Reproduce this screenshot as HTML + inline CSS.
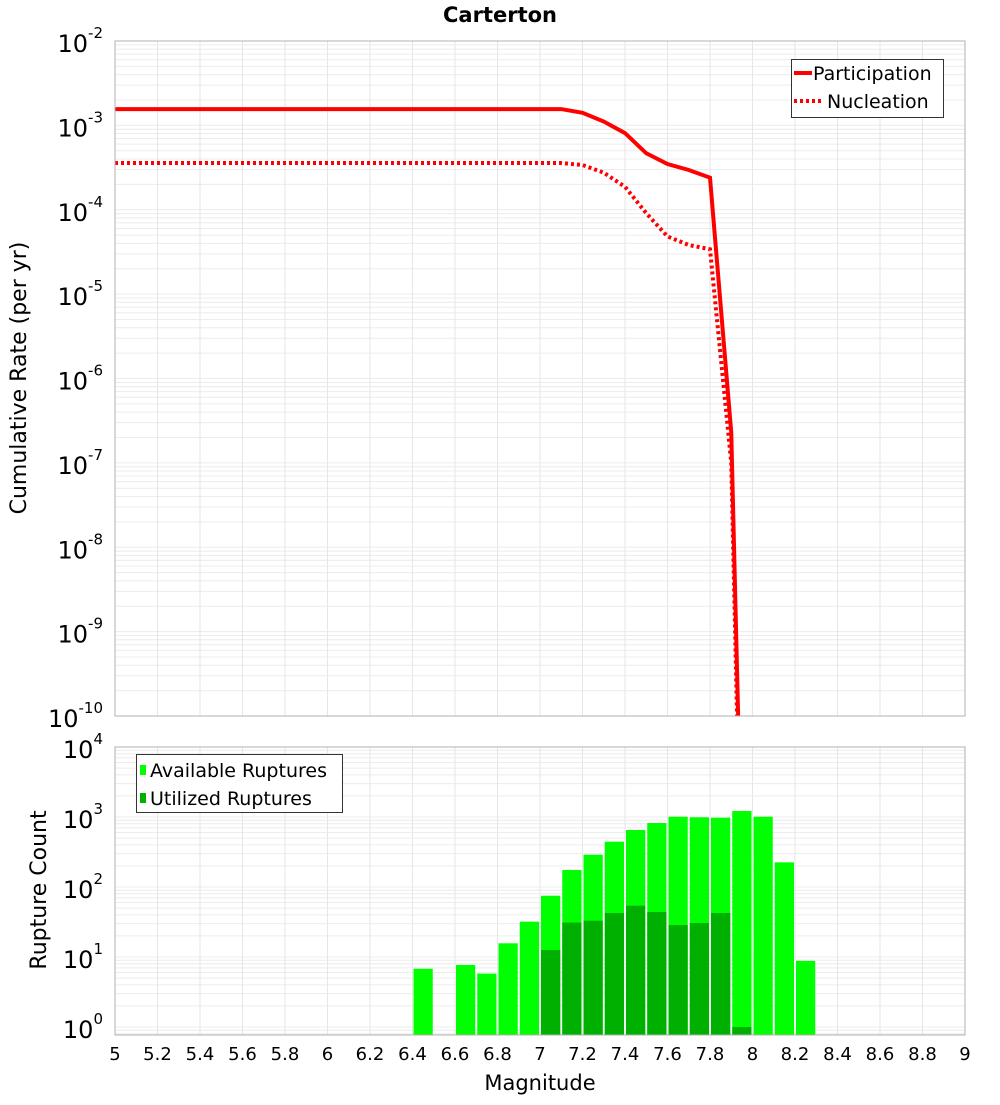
<!DOCTYPE html>
<html><head><meta charset="utf-8">
<style>
body{margin:0;background:#fff;}
svg text{font-family:"DejaVu Sans","Liberation Sans",sans-serif;}
</style></head>
<body>
<svg id="chart" width="1000" height="1100" xmlns="http://www.w3.org/2000/svg">
<text x="500" y="22" text-anchor="middle" font-size="21" font-weight="bold">Carterton</text>
<g id="topPlot"></g>
<g id="botPlot"></g>
<text transform="translate(26,378) rotate(-90)" text-anchor="middle" font-size="22">Cumulative Rate (per yr)</text>
<text transform="translate(46,890) rotate(-90)" text-anchor="middle" font-size="22">Rupture Count</text>
<text x="540" y="1090" text-anchor="middle" font-size="21">Magnitude</text>
</svg>
<script>
const partMags = [5.0, 7.1, 7.2, 7.3, 7.4, 7.5, 7.6, 7.7, 7.8, 7.9, 8.0];
const partRates = [1.56e-3, 1.56e-3, 1.41e-3, 1.11e-3, 8.1e-4, 4.67e-4, 3.48e-4, 2.96e-4, 2.40e-4, 2.3e-7, 1e-17];
const nuclMags = [5.0, 7.1, 7.2, 7.3, 7.4, 7.5, 7.6, 7.7, 7.8, 7.9, 8.0];
const nuclRates = [3.58e-4, 3.58e-4, 3.39e-4, 2.75e-4, 1.87e-4, 9.1e-5, 4.82e-5, 3.82e-5, 3.4e-5, 1e-7, 1e-18];
const binMags = [6.45, 6.55, 6.65, 6.75, 6.85, 6.95, 7.05, 7.15, 7.25, 7.35, 7.45, 7.55, 7.65, 7.75, 7.85, 7.95, 8.05, 8.15, 8.25];
const availCounts = [6.8, 0, 7.7, 5.8, 15.7, 32, 75, 175, 289, 444, 652, 820, 1010, 990, 977, 1220, 1010, 225, 8.8];
const usedCounts = [0, 0, 0, 0, 0, 0, 12.6, 31, 33, 42.5, 54, 44, 28.6, 30.6, 42.5, 1, 0, 0, 0];
const xTicks = [5,5.2,5.4,5.6,5.8,6,6.2,6.4,6.6,6.8,7,7.2,7.4,7.6,7.8,8,8.2,8.4,8.6,8.8,9];

const NS="http://www.w3.org/2000/svg";
const X0=115,X1=965;
function xs(m){return X0+(m-5)/4*(X1-X0);}
const T0=41,T1=716;
function ysTop(v){return T0+(-2-Math.log10(v))*(T1-T0)/8;}
const B0=747,B1=1035,BD=70;
function ysBot(v){return B0+(4-Math.log10(v))*BD;}
function mk(tag,attrs,parent){const e=document.createElementNS(NS,tag);for(const k in attrs)e.setAttribute(k,attrs[k]);parent.appendChild(e);return e;}
const topG=document.getElementById('topPlot'),botG=document.getElementById('botPlot');

// top grid
const tg=mk('g',{},topG);


for(let d=-10;d<-2;d++){for(let k=1;k<10;k++){const y=ysTop(k*Math.pow(10,d));mk('line',{x1:X0,x2:X1,y1:y,y2:y,stroke:'#ececec','stroke-width':1},tg);}}
xTicks.forEach(m=>{mk('line',{x1:xs(m),x2:xs(m),y1:T0,y2:T1,stroke:'#e6e6e6','stroke-width':1},tg);});
for(let d=-10;d<=-2;d++){
 const tl=mk('text',{x:103,y:ysTop(Math.pow(10,d))+11,'text-anchor':'end','font-size':24},topG);
 
 
 tl.innerHTML='10<tspan font-size="15" dy="-14">'+d+'</tspan>';
}
const cp=mk('clipPath',{id:'cpTop'},topG);mk('rect',{x:X0,y:T0,width:X1-X0,height:T1-T0},cp);
function drawLine(mags,rates,dash,name){
 const p=mk('polyline',{points:mags.map((m,i)=>xs(m)+','+ysTop(rates[i])).join(' '),fill:'none',stroke:'#ff0000','stroke-width':4,'clip-path':'url(#cpTop)'},topG);
 if(dash)p.setAttribute('stroke-dasharray','3,3');
 
 
}
drawLine(partMags,partRates,false,'participation-line');
drawLine(nuclMags,nuclRates,true,'nucleation-line');
mk('rect',{x:X0,y:T0,width:X1-X0,height:T1-T0,fill:'none',stroke:'#b0b0b0'},topG);
const lg=mk('g',{},topG);


mk('rect',{x:791.5,y:59.5,width:152,height:58,fill:'#fff',stroke:'#333'},lg);
mk('line',{x1:794,x2:812,y1:73,y2:73,stroke:'#f00','stroke-width':4},lg);
mk('line',{x1:794,x2:822,y1:101,y2:101,stroke:'#f00','stroke-width':4,'stroke-dasharray':'3,3'},lg);
let tt=mk('text',{x:813,y:80,'font-size':19},lg);tt.textContent='Participation';


tt=mk('text',{x:827,y:108,'font-size':19},lg);tt.textContent='Nucleation';



// bottom grid
const bg=mk('g',{},botG);


for(let d=-1;d<4;d++){for(let k=1;k<10;k++){const v=k*Math.pow(10,d);const y=ysBot(v);if(y>B1)continue;mk('line',{x1:X0,x2:X1,y1:y,y2:y,stroke:'#ececec','stroke-width':1},bg);}}
xTicks.forEach(m=>{mk('line',{x1:xs(m),x2:xs(m),y1:B0,y2:B1,stroke:'#e6e6e6','stroke-width':1},bg);});
for(let d=0;d<=4;d++){
 const tl=mk('text',{x:103,y:ysBot(Math.pow(10,d))+11,'text-anchor':'end','font-size':24},botG);
 
 
 tl.innerHTML='10<tspan font-size="15" dy="-14">'+d+'</tspan>';
}
const bw=xs(0.1)-xs(0);
function drawBars(vals,color,name){
 binMags.forEach((m,i)=>{
  if(vals[i]<=0)return;
  const y=ysBot(vals[i]);
  const r=mk('rect',{x:xs(m)-bw/2+1,y:y,width:bw-2,height:B1-y,fill:color},botG);
  
  
 });
}
drawBars(availCounts,'#00ff00','available-bar');
drawBars(usedCounts,'#00b000','utilized-bar');
mk('rect',{x:X0,y:B0,width:X1-X0,height:B1-B0,fill:'none',stroke:'#b0b0b0'},botG);
const lg2=mk('g',{},botG);


mk('rect',{x:136.5,y:754.5,width:206,height:58,fill:'#fff',stroke:'#333'},lg2);
mk('rect',{x:140,y:765,width:6,height:10,fill:'#00ff00'},lg2);
mk('rect',{x:140,y:793,width:6,height:10,fill:'#00b000'},lg2);
tt=mk('text',{x:150,y:777,'font-size':19},lg2);tt.textContent='Available Ruptures';


tt=mk('text',{x:150,y:805,'font-size':19},lg2);tt.textContent='Utilized Ruptures';


xTicks.forEach(m=>{
 const tl=mk('text',{x:xs(m),y:1060,'text-anchor':'middle','font-size':18},botG);
 tl.textContent=String(m);
 
 
});
</script>
</body></html>
